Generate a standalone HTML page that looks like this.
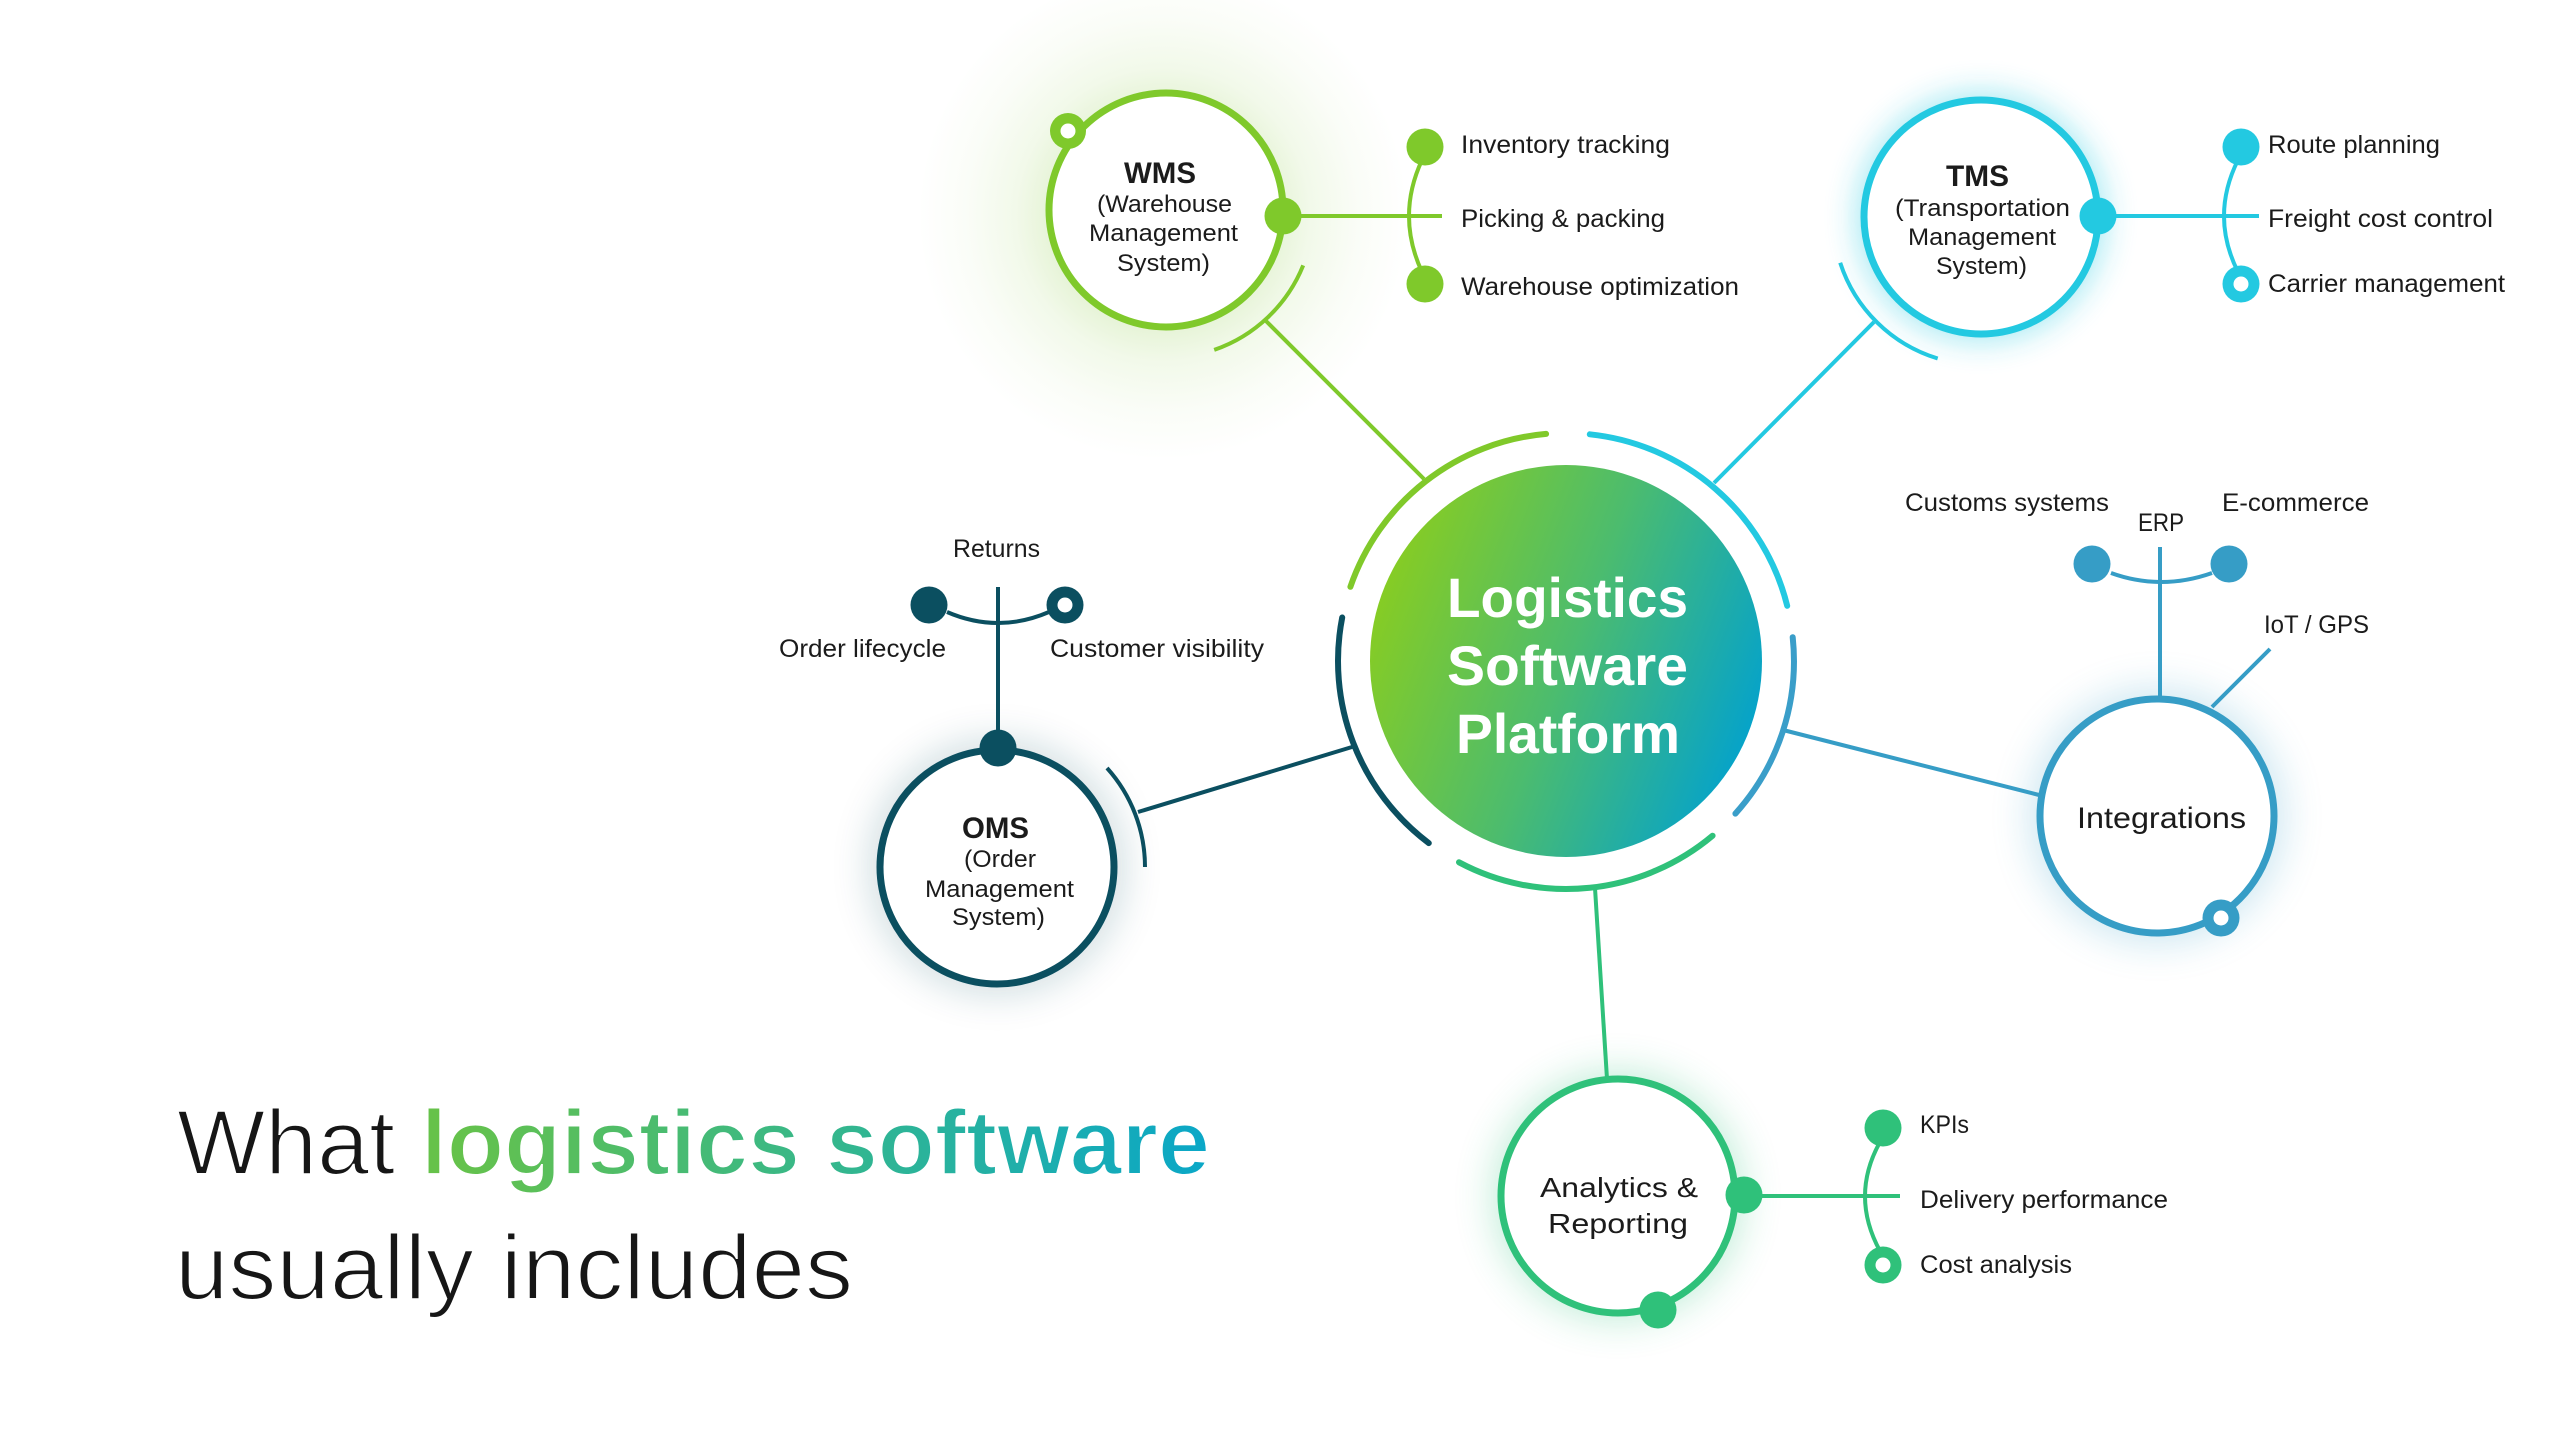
<!DOCTYPE html>
<html>
<head>
<meta charset="utf-8">
<style>
  html,body{margin:0;padding:0;background:#ffffff;}
  svg{display:block;}
  text{font-family:"Liberation Sans", Arial, sans-serif;}
</style>
</head>
<body>
<svg width="2560" height="1440" viewBox="0 0 2560 1440" xmlns="http://www.w3.org/2000/svg">
  <defs>
    <linearGradient id="cg" x1="0.03" y1="0.32" x2="0.97" y2="0.68">
      <stop offset="0" stop-color="#86cc24"/>
      <stop offset="0.5" stop-color="#4cbc6e"/>
      <stop offset="1" stop-color="#06a3c9"/>
    </linearGradient>
    <linearGradient id="tg" gradientUnits="userSpaceOnUse" x1="448" y1="0" x2="1210" y2="0">
      <stop offset="0" stop-color="#66c24a"/>
      <stop offset="0.5" stop-color="#35b78c"/>
      <stop offset="1" stop-color="#0aa7c8"/>
    </linearGradient>
    <radialGradient id="wmsHalo" gradientUnits="userSpaceOnUse" cx="1163" cy="215" r="245">
      <stop offset="0.44" stop-color="#87c83c" stop-opacity="0.22"/>
      <stop offset="0.6" stop-color="#87c83c" stop-opacity="0.11"/>
      <stop offset="0.8" stop-color="#87c83c" stop-opacity="0.04"/>
      <stop offset="1" stop-color="#87c83c" stop-opacity="0"/>
    </radialGradient>
    <filter id="blur" x="-60%" y="-60%" width="220%" height="220%">
      <feGaussianBlur stdDeviation="20"/>
    </filter>
    <filter id="blur2" x="-60%" y="-60%" width="220%" height="220%">
      <feGaussianBlur stdDeviation="16"/>
    </filter>
  </defs>

  <!-- Halos / glows -->
  <circle cx="1163" cy="215" r="245" fill="url(#wmsHalo)"/>
  <circle cx="1981" cy="217" r="124" fill="#23c9e1" opacity="0.42" filter="url(#blur2)"/>
  <circle cx="997" cy="867" r="126" fill="#0b4f60" opacity="0.2" filter="url(#blur)"/>
  <circle cx="2157" cy="816" r="126" fill="#369dc6" opacity="0.26" filter="url(#blur)"/>
  <circle cx="1618" cy="1196" r="124" fill="#2fc17a" opacity="0.3" filter="url(#blur)"/>

  <!-- Connectors -->
  <g stroke-width="4" fill="none" stroke-linecap="butt">
    <line x1="1266" y1="321" x2="1424" y2="479" stroke="#7fc92b"/>
    <line x1="1874" y1="322" x2="1714" y2="483" stroke="#23c9e1"/>
    <line x1="1783" y1="730" x2="2039" y2="795" stroke="#369dc6"/>
    <line x1="1138" y1="812" x2="1352" y2="747" stroke="#0b4f60"/>
    <line x1="1595" y1="888" x2="1607" y2="1079" stroke="#2fc17a"/>
  </g>

  <!-- Center outer arcs -->
  <g fill="none" stroke-width="6" stroke-linecap="round">
    <path d="M1350.4,586.8 A228,228 0 0 1 1546.1,433.9" stroke="#80c92a"/>
    <path d="M1589.8,434.3 A228,228 0 0 1 1787.2,605.8" stroke="#23c9e1"/>
    <path d="M1792.7,637.2 A228,228 0 0 1 1735.4,813.6" stroke="#3a9ec9"/>
    <path d="M1712.6,835.7 A228,228 0 0 1 1459.0,862.3" stroke="#2fc17a"/>
    <path d="M1428.8,843.1 A228,228 0 0 1 1342.2,617.5" stroke="#0b4f60"/>
  </g>

  <!-- Center circle -->
  <circle cx="1566" cy="661" r="196" fill="url(#cg)"/>
  <g fill="#ffffff" font-weight="700" font-size="56">
    <text x="1447" y="617" textLength="241" lengthAdjust="spacingAndGlyphs">Logistics</text>
    <text x="1447" y="685" textLength="241" lengthAdjust="spacingAndGlyphs">Software</text>
    <text x="1456" y="753" textLength="224" lengthAdjust="spacingAndGlyphs">Platform</text>
  </g>

  <!-- ============ WMS ============ -->
  <path d="M1303.2,265.4 A148,148 0 0 1 1214.2,349.9" fill="none" stroke="#7fc92b" stroke-width="4"/>
  <circle cx="1166" cy="210" r="117" fill="#ffffff" stroke="#7fc92b" stroke-width="7"/>
  <circle cx="1068" cy="131" r="18" fill="#7fc92b"/>
  <circle cx="1068" cy="131" r="7.5" fill="#ffffff"/>
  <line x1="1283" y1="216" x2="1442" y2="216" stroke="#7fc92b" stroke-width="4"/>
  <path d="M1422,160 Q1396,216 1422,272" fill="none" stroke="#7fc92b" stroke-width="4"/>
  <circle cx="1283" cy="216" r="18.5" fill="#7fc92b"/>
  <circle cx="1425" cy="147" r="18.5" fill="#7fc92b"/>
  <circle cx="1425" cy="284" r="18.5" fill="#7fc92b"/>
  <g fill="#1b1b1b">
    <text x="1124" y="183" font-size="30" font-weight="700" textLength="72" lengthAdjust="spacingAndGlyphs">WMS</text>
    <text x="1097" y="212" font-size="24" textLength="135" lengthAdjust="spacingAndGlyphs">(Warehouse</text>
    <text x="1089" y="241" font-size="24" textLength="149" lengthAdjust="spacingAndGlyphs">Management</text>
    <text x="1117" y="271" font-size="24" textLength="93" lengthAdjust="spacingAndGlyphs">System)</text>
    <text x="1461" y="153" font-size="25" textLength="209" lengthAdjust="spacingAndGlyphs">Inventory tracking</text>
    <text x="1461" y="227" font-size="25" textLength="204" lengthAdjust="spacingAndGlyphs">Picking &amp; packing</text>
    <text x="1461" y="295" font-size="25" textLength="278" lengthAdjust="spacingAndGlyphs">Warehouse optimization</text>
  </g>

  <!-- ============ TMS ============ -->
  <path d="M1937.7,358.5 A148,148 0 0 1 1840.2,262.7" fill="none" stroke="#23c9e1" stroke-width="4"/>
  <circle cx="1981" cy="217" r="117" fill="#ffffff" stroke="#23c9e1" stroke-width="7"/>
  <line x1="2098" y1="216" x2="2259" y2="216" stroke="#23c9e1" stroke-width="4"/>
  <path d="M2238,160 Q2210,216 2238,272" fill="none" stroke="#23c9e1" stroke-width="4"/>
  <circle cx="2098" cy="216" r="18.5" fill="#23c9e1"/>
  <circle cx="2241" cy="147" r="18.5" fill="#23c9e1"/>
  <circle cx="2241" cy="284" r="18.5" fill="#23c9e1"/>
  <circle cx="2241" cy="284" r="7.5" fill="#ffffff"/>
  <g fill="#1b1b1b">
    <text x="1946" y="186" font-size="30" font-weight="700" textLength="63" lengthAdjust="spacingAndGlyphs">TMS</text>
    <text x="1895" y="216" font-size="24" textLength="175" lengthAdjust="spacingAndGlyphs">(Transportation</text>
    <text x="1908" y="245" font-size="24" textLength="148" lengthAdjust="spacingAndGlyphs">Management</text>
    <text x="1936" y="274" font-size="24" textLength="91" lengthAdjust="spacingAndGlyphs">System)</text>
    <text x="2268" y="153" font-size="25" textLength="172" lengthAdjust="spacingAndGlyphs">Route planning</text>
    <text x="2268" y="227" font-size="25" textLength="225" lengthAdjust="spacingAndGlyphs">Freight cost control</text>
    <text x="2268" y="292" font-size="25" textLength="237" lengthAdjust="spacingAndGlyphs">Carrier management</text>
  </g>

  <!-- ============ OMS ============ -->
  <path d="M1107,768 A148,148 0 0 1 1145,867" fill="none" stroke="#0b4f60" stroke-width="4"/>
  <line x1="998" y1="587" x2="998" y2="748" stroke="#0b4f60" stroke-width="4"/>
  <path d="M947,612 Q998,634 1049,612" fill="none" stroke="#0b4f60" stroke-width="4"/>
  <circle cx="997" cy="867" r="117" fill="#ffffff" stroke="#0b4f60" stroke-width="7"/>
  <circle cx="998" cy="748" r="18.5" fill="#0b4f60"/>
  <circle cx="929" cy="605" r="18.5" fill="#0b4f60"/>
  <circle cx="1065" cy="605" r="18.5" fill="#0b4f60"/>
  <circle cx="1065" cy="605" r="7.5" fill="#ffffff"/>
  <g fill="#1b1b1b">
    <text x="962" y="838" font-size="30" font-weight="700" textLength="67" lengthAdjust="spacingAndGlyphs">OMS</text>
    <text x="964" y="867" font-size="24" textLength="72" lengthAdjust="spacingAndGlyphs">(Order</text>
    <text x="925" y="897" font-size="24" textLength="149" lengthAdjust="spacingAndGlyphs">Management</text>
    <text x="952" y="925" font-size="24" textLength="93" lengthAdjust="spacingAndGlyphs">System)</text>
    <text x="953" y="557" font-size="25" textLength="87" lengthAdjust="spacingAndGlyphs">Returns</text>
    <text x="779" y="657" font-size="25" textLength="167" lengthAdjust="spacingAndGlyphs">Order lifecycle</text>
    <text x="1050" y="657" font-size="25" textLength="214" lengthAdjust="spacingAndGlyphs">Customer visibility</text>
  </g>

  <!-- ============ Integrations ============ -->
  <line x1="2160" y1="547" x2="2160" y2="699" stroke="#369dc6" stroke-width="4"/>
  <path d="M2111,573 Q2161,591 2212,573" fill="none" stroke="#369dc6" stroke-width="4"/>
  <line x1="2270" y1="649" x2="2212" y2="707" stroke="#369dc6" stroke-width="4"/>
  <circle cx="2157" cy="816" r="117" fill="#ffffff" stroke="#369dc6" stroke-width="7"/>
  <circle cx="2092" cy="564" r="18.5" fill="#369dc6"/>
  <circle cx="2229" cy="564" r="18.5" fill="#369dc6"/>
  <circle cx="2221" cy="918" r="18.5" fill="#369dc6"/>
  <circle cx="2221" cy="918" r="7.5" fill="#ffffff"/>
  <g fill="#1b1b1b">
    <text x="2077" y="828" font-size="30" textLength="169" lengthAdjust="spacingAndGlyphs">Integrations</text>
    <text x="1905" y="511" font-size="25" textLength="204" lengthAdjust="spacingAndGlyphs">Customs systems</text>
    <text x="2138" y="531" font-size="25" textLength="46" lengthAdjust="spacingAndGlyphs">ERP</text>
    <text x="2222" y="511" font-size="25" textLength="147" lengthAdjust="spacingAndGlyphs">E-commerce</text>
    <text x="2264" y="633" font-size="25" textLength="105" lengthAdjust="spacingAndGlyphs">IoT / GPS</text>
  </g>

  <!-- ============ Analytics ============ -->
  <circle cx="1618" cy="1196" r="117" fill="#ffffff" stroke="#2fc17a" stroke-width="7"/>
  <line x1="1744" y1="1196" x2="1900" y2="1196" stroke="#2fc17a" stroke-width="4"/>
  <path d="M1880,1142 Q1850,1196 1880,1251" fill="none" stroke="#2fc17a" stroke-width="4"/>
  <circle cx="1744" cy="1195" r="18.5" fill="#2fc17a"/>
  <circle cx="1658" cy="1310" r="18.5" fill="#2fc17a"/>
  <circle cx="1883" cy="1128" r="18.5" fill="#2fc17a"/>
  <circle cx="1883" cy="1265" r="18.5" fill="#2fc17a"/>
  <circle cx="1883" cy="1265" r="7.5" fill="#ffffff"/>
  <g fill="#1b1b1b">
    <text x="1540" y="1197" font-size="28" textLength="158" lengthAdjust="spacingAndGlyphs">Analytics &amp;</text>
    <text x="1548" y="1233" font-size="28" textLength="140" lengthAdjust="spacingAndGlyphs">Reporting</text>
    <text x="1920" y="1133" font-size="25" textLength="49" lengthAdjust="spacingAndGlyphs">KPIs</text>
    <text x="1920" y="1208" font-size="25" textLength="248" lengthAdjust="spacingAndGlyphs">Delivery performance</text>
    <text x="1920" y="1273" font-size="25" textLength="152" lengthAdjust="spacingAndGlyphs">Cost analysis</text>
  </g>

  <!-- ============ Title ============ -->
  <text x="177" y="1174" font-size="92" textLength="1033" lengthAdjust="spacingAndGlyphs" stroke="#ffffff" stroke-width="2"><tspan fill="#161616">What </tspan><tspan fill="url(#tg)" font-weight="700">logistics software</tspan></text>
  <text x="175" y="1299" font-size="92" fill="#161616" stroke="#ffffff" stroke-width="2" textLength="678" lengthAdjust="spacingAndGlyphs">usually includes</text>
</svg>
</body>
</html>
